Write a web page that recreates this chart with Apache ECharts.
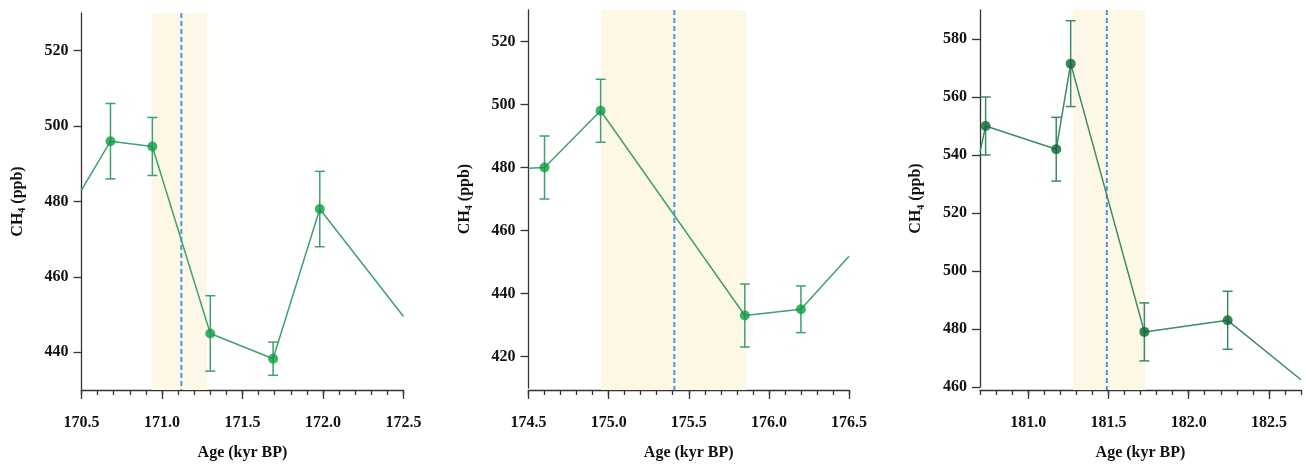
<!DOCTYPE html>
<html>
<head>
<meta charset="utf-8">
<script src="https://cdn.jsdelivr.net/npm/echarts@6/dist/echarts.min.js"></script>
<style>
html,body{margin:0;padding:0;background:#fff;}
#chart{width:1306px;height:466px;}
</style>
</head>
<body>
<div id="chart"></div>
<script>
// ---------- data ----------
// Panel 1
const p1Age = [170.5, 170.68, 170.94, 171.30, 171.69, 171.98, 172.5];
const p1CH4 = [483, 496, 494.6, 445, 438.3, 478, 449.5];
const p1Err = [null, 10, 7.7, 10, 4.4, 10, null];
const p1Band = [170.94, 171.28];
const p1Event = 171.12;
const p1XTicks = [170.5, 171.0, 171.5, 172.0, 172.5];
const p1YTicks = [440, 460, 480, 500, 520];
const p1XRange = [170.5, 172.5];
const p1YRange = [430, 530];

// Panel 2
const p2Age = [174.5, 174.6, 174.95, 175.85, 176.2, 176.5];
const p2CH4 = [479.8, 480, 498, 433, 435, 451.8];
const p2Err = [null, 10, 10, 10, 7.4, null];
const p2Band = [174.955, 175.86];
const p2Event = 175.41;
const p2XTicks = [174.5, 175.0, 175.5, 176.0, 176.5];
const p2YTicks = [420, 440, 460, 480, 500, 520];
const p2XRange = [174.5, 176.5];
const p2YRange = [410, 530];

// Panel 3
const p3Age = [180.7, 180.735, 181.175, 181.265, 181.724, 182.243, 182.7];
const p3CH4 = [541, 550, 542, 571.5, 479, 483, 462.5];
const p3Err = [null, 10, 11, 14.8, 10, 10, null];
const p3Band = [181.28, 181.73];
const p3Event = 181.49;
const p3XTicks = [181.0, 181.5, 182.0, 182.5];
const p3YTicks = [460, 480, 500, 520, 540, 560, 580];
const p3XRange = [180.7, 182.7];
const p3YRange = [460, 590];

// ---------- layout / style ----------
const FONT = '"Liberation Serif", "Times New Roman", serif';
const AXIS_COLOR = '#333';
const TEXT_COLOR = '#111';

const panels = [
  {age:p1Age, ch4:p1CH4, err:p1Err, band:p1Band, ev:p1Event, xt:p1XTicks, yt:p1YTicks, xr:p1XRange, yr:p1YRange,
   left:81.5, width:322, top:13, plotBottom:390, axisBottom:396, line:'#3fa070', marker:'#109c45'},
  {age:p2Age, ch4:p2CH4, err:p2Err, band:p2Band, ev:p2Event, xt:p2XTicks, yt:p2YTicks, xr:p2XRange, yr:p2YRange,
   left:528.5, width:320.5, top:10, plotBottom:388, axisBottom:394, line:'#3fa070', marker:'#109c45'},
  {age:p3Age, ch4:p3CH4, err:p3Err, band:p3Band, ev:p3Event, xt:p3XTicks, yt:p3YTicks, xr:p3XRange, yr:p3YRange,
   left:980, width:321, top:10, plotBottom:387, axisBottom:393, line:'#3d8a64', marker:'#0a6532'}
];

const H = 466;
const grids = [], xAxes = [], yAxes = [], series = [];

panels.forEach((p, i) => {
  // plot grid (data + y axis)
  const gPlot = grids.length;
  grids.push({left:p.left, width:p.width, top:p.top, bottom:H - p.plotBottom, containLabel:false});
  // axis grid (x axis + band + event line)
  const gAxis = grids.length;
  grids.push({left:p.left, width:p.width, top:p.top, bottom:H - p.axisBottom, containLabel:false});

  // plot grid axes
  const xPlot = xAxes.length;
  xAxes.push({gridIndex:gPlot, type:'value', min:p.xr[0], max:p.xr[1], show:false});
  const yPlot = yAxes.length;
  yAxes.push({
    gridIndex:gPlot, type:'value', min:p.yr[0], max:p.yr[1], position:'left',
    name:'{a|CH}{s|4}{a| (ppb)}', nameLocation:'middle', nameRotate:90, nameGap:54,
    nameTextStyle:{
      fontFamily:FONT, fontWeight:'bold', fontSize:16, color:TEXT_COLOR,
      rich:{
        a:{fontFamily:FONT, fontWeight:'bold', fontSize:16, lineHeight:20, color:TEXT_COLOR},
        s:{fontFamily:FONT, fontWeight:'bold', fontSize:10, lineHeight:10, verticalAlign:'bottom', color:TEXT_COLOR}
      }
    },
    axisLine:{show:true, lineStyle:{color:AXIS_COLOR, width:1.3}},
    axisTick:{show:true, inside:false, length:8, customValues:p.yt, lineStyle:{color:AXIS_COLOR, width:1.3}},
    axisLabel:{show:true, margin:13, customValues:p.yt, fontFamily:FONT, fontWeight:'bold', fontSize:16, color:TEXT_COLOR},
    splitLine:{show:false}
  });

  // axis grid axes
  const xMinor = xAxes.length;
  xAxes.push({
    gridIndex:gAxis, type:'value', min:p.xr[0], max:p.xr[1], interval:0.1, position:'bottom',
    axisLine:{show:true, lineStyle:{color:AXIS_COLOR, width:1.3}},
    axisTick:{show:true, length:5, lineStyle:{color:AXIS_COLOR, width:1.3}},
    axisLabel:{show:false}, splitLine:{show:false}
  });
  const xMajor = xAxes.length;
  xAxes.push({
    gridIndex:gAxis, type:'value', min:p.xr[0], max:p.xr[1], position:'bottom',
    name:'Age (kyr BP)', nameLocation:'middle', nameGap:55,
    nameTextStyle:{fontFamily:FONT, fontWeight:'bold', fontSize:16, color:TEXT_COLOR},
    axisLine:{show:true, lineStyle:{color:'rgba(0,0,0,0)', width:1}},
    axisTick:{show:true, length:9, customValues:p.xt, lineStyle:{color:AXIS_COLOR, width:1.3}},
    axisLabel:{show:true, margin:8, padding:[17,0,0,0], customValues:p.xt, formatter:v => Number(v).toFixed(1),
      fontFamily:FONT, fontWeight:'bold', fontSize:16, color:TEXT_COLOR},
    splitLine:{show:false}
  });
  const yAxisG = yAxes.length;
  yAxes.push({gridIndex:gAxis, type:'value', min:0, max:1, show:false});

  // band
  series.push({
    type:'custom', xAxisIndex:xMinor, yAxisIndex:yAxisG, z:1, silent:true,
    data:[[p.band[0], p.band[1]]],
    renderItem:(params, api) => {
      const a = api.coord([api.value(0), 1]);
      const b = api.coord([api.value(1), 0]);
      return {type:'rect', shape:{x:a[0], y:a[1], width:b[0]-a[0], height:b[1]-a[1]},
              style:{fill:'#fdf8e6'}};
    }
  });
  // event dashed line
  series.push({
    type:'custom', xAxisIndex:xMinor, yAxisIndex:yAxisG, z:3, silent:true,
    data:[[p.ev]],
    renderItem:(params, api) => {
      const a = api.coord([api.value(0), 1]);
      const b = api.coord([api.value(0), 0]);
      return {type:'line', shape:{x1:a[0], y1:a[1], x2:b[0], y2:b[1]},
              style:{stroke:'#4d94e6', lineWidth:2, lineDash:[5,3]}};
    }
  });

  // connecting line
  series.push({
    type:'line', xAxisIndex:xPlot, yAxisIndex:yPlot, z:4, symbol:'none', silent:true,
    lineStyle:{color:p.line, width:1.5},
    data:p.age.map((a, k) => [a, p.ch4[k]])
  });
  // error bars
  const meas = p.age.map((a, k) => [a, p.ch4[k], p.err[k]]).filter(d => d[2] != null);
  series.push({
    type:'custom', xAxisIndex:xPlot, yAxisIndex:yPlot, z:5, silent:true,
    data:meas,
    renderItem:(params, api) => {
      const x = api.value(0), y = api.value(1), e = api.value(2);
      const t = api.coord([x, y + e]);
      const b = api.coord([x, y - e]);
      const st = {stroke:p.line, lineWidth:1.5};
      return {type:'group', children:[
        {type:'line', shape:{x1:t[0], y1:t[1], x2:b[0], y2:b[1]}, style:st},
        {type:'line', shape:{x1:t[0]-5, y1:t[1], x2:t[0]+5, y2:t[1]}, style:st},
        {type:'line', shape:{x1:b[0]-5, y1:b[1], x2:b[0]+5, y2:b[1]}, style:st}
      ]};
    }
  });
  // markers
  series.push({
    type:'scatter', xAxisIndex:xPlot, yAxisIndex:yPlot, z:6, silent:true,
    symbol:'circle', symbolSize:10,
    itemStyle:{color:p.marker},
    data:meas.map(d => [d[0], d[1]])
  });
});

const chart = echarts.init(document.getElementById('chart'), null, {renderer:'canvas'});
chart.setOption({
  animation:false,
  backgroundColor:'#ffffff',
  grid:grids,
  xAxis:xAxes,
  yAxis:yAxes,
  series:series
});
</script>
</body>
</html>
